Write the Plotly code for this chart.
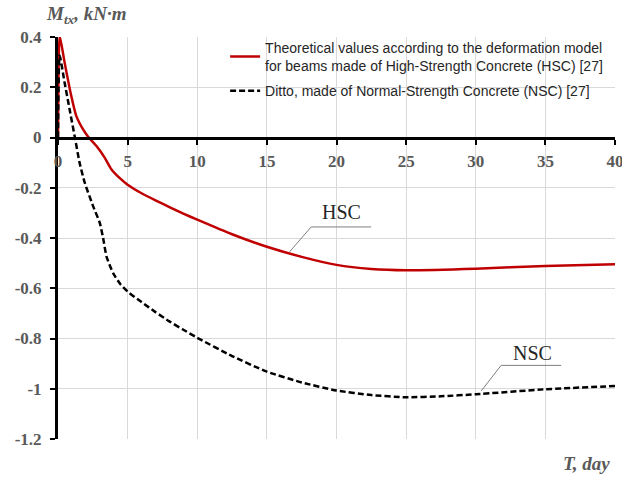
import plotly.graph_objects as go

# ---- data ----
hsc_t = [0, 0.12, 0.47, 0.95, 1.31, 1.79, 2.15, 2.75, 3.35, 3.83, 4.5, 5.0, 6.0, 7.0,
         8.0, 9.0, 10, 12.5, 15, 17.5, 20, 22.5, 25, 30, 35, 40]
hsc_m = [0, 0.405, 0.30, 0.166, 0.086, 0.033, 0.004, -0.033, -0.08, -0.126, -0.165,
         -0.188, -0.222, -0.25, -0.277, -0.303, -0.327, -0.385, -0.435, -0.475, -0.507,
         -0.523, -0.528, -0.522, -0.511, -0.504]

nsc_t = [0, 0.12, 0.47, 0.83, 1.19, 1.55, 1.92, 2.52, 3.0, 3.24, 3.48, 3.96, 4.5, 5.0,
         6.0, 7.0, 8.0, 9.0, 10, 12.5, 15, 17.5, 20, 22.5, 25, 27.5, 30, 35, 40]
nsc_m = [0, 0.326, 0.22, 0.113, 0.007, -0.10, -0.18, -0.273, -0.34, -0.40, -0.473,
         -0.54, -0.585, -0.613, -0.655, -0.695, -0.732, -0.765, -0.797, -0.87, -0.932,
         -0.975, -1.007, -1.025, -1.034, -1.03, -1.022, -1.002, -0.989]

x_ticks = [0, 5, 10, 15, 20, 25, 30, 35, 40]
x_tick_text = ["0", "5", "10", "15", "20", "25", "30", "35", "40"]
y_ticks = [0.4, 0.2, 0, -0.2, -0.4, -0.6, -0.8, -1.0, -1.2]
y_tick_text = ["0.4", "0.2", "0", "-0.2", "-0.4", "-0.6", "-0.8", "-1", "-1.2"]

name_hsc = ("Theoretical values according to the deformation model<br>"
            "for beams made of High-Strength Concrete (HSC) [27]")
name_nsc = "Ditto, made of Normal-Strength Concrete (NSC) [27]"

# label callouts: (text, text position, leader path points)
hsc_label = ("HSC", (20.33, -0.298), [(16.63, -0.455), (18.18, -0.356), (22.49, -0.356)])
nsc_label = ("NSC", (34.09, -0.856), [(30.39, -1.009), (31.82, -0.907), (36.13, -0.907)])

SERIF = "Liberation Serif"
GRAY = "#595959"

fig = go.Figure()
fig.add_trace(go.Scatter(x=hsc_t, y=hsc_m, mode="lines", name=name_hsc, legendgroup="a",
                         line=dict(color="#C00000", width=2.5, shape="spline", smoothing=0.5)))
fig.add_trace(go.Scatter(x=nsc_t, y=nsc_m, mode="lines", name=name_nsc, legendgroup="b",
                         line=dict(color="black", width=2.5, dash="6px,3px",
                                   shape="spline", smoothing=0.5)))

tickfont = dict(family=SERIF, size=17, color=GRAY)

fig.update_layout(
    width=622, height=477, autosize=False,
    margin=dict(l=58, r=7, t=37, b=38),
    paper_bgcolor="white", plot_bgcolor="white",
    showlegend=True,
    legend=dict(x=0.30, y=1.013, xanchor="left", yanchor="top",
                bgcolor="rgba(0,0,0,0)", borderwidth=0,
                font=dict(family="Liberation Sans", size=14, color="#262626"),
                tracegroupgap=4),
    xaxis=dict(range=[0, 40], tickvals=x_ticks,
               ticktext=[f"<b>{t}</b>" for t in x_tick_text],
               anchor="free", position=0.75, ticklabeloverflow="allow",
               automargin=False,
               showline=True, linecolor="black", linewidth=3,
               ticks="outside", ticklen=5, tickwidth=2, tickcolor="black",
               showgrid=True, gridcolor="#d9d9d9", gridwidth=1, zeroline=False,
               tickfont=tickfont, ticklabelstandoff=2),
    yaxis=dict(range=[-1.2, 0.4], tickvals=y_ticks,
               ticktext=[f"<b>{t}</b>" for t in y_tick_text],
               automargin=False,
               showline=True, linecolor="black", linewidth=3,
               ticks="outside", ticklen=5, tickwidth=2, tickcolor="black",
               showgrid=True, gridcolor="#d9d9d9", gridwidth=1, zeroline=False,
               tickfont=tickfont, ticklabelstandoff=5),
)

# axis titles
fig.add_annotation(text="<b><i>M</i><sub><i>tx</i></sub><i>, kN·m</i></b>",
                   xref="paper", yref="paper", x=-0.025, y=1.055,
                   xanchor="left", yanchor="middle", showarrow=False,
                   font=dict(family=SERIF, size=19, color=GRAY))
fig.add_annotation(text="<b><i>T, day</i></b>",
                   xref="paper", yref="paper", x=0.995, y=-0.06,
                   xanchor="right", yanchor="middle", showarrow=False,
                   font=dict(family=SERIF, size=19, color=GRAY))

# callouts
for text, (tx, ty), pts in (hsc_label, nsc_label):
    fig.add_annotation(text=text, x=tx, y=ty, xref="x", yref="y", showarrow=False,
                       font=dict(family=SERIF, size=20, color="#262626"))
    path = "M " + " L ".join(f"{px},{py}" for px, py in pts)
    fig.add_shape(type="path", path=path, xref="x", yref="y",
                  line=dict(color="#7f7f7f", width=1))

fig.write_html("out.html")
